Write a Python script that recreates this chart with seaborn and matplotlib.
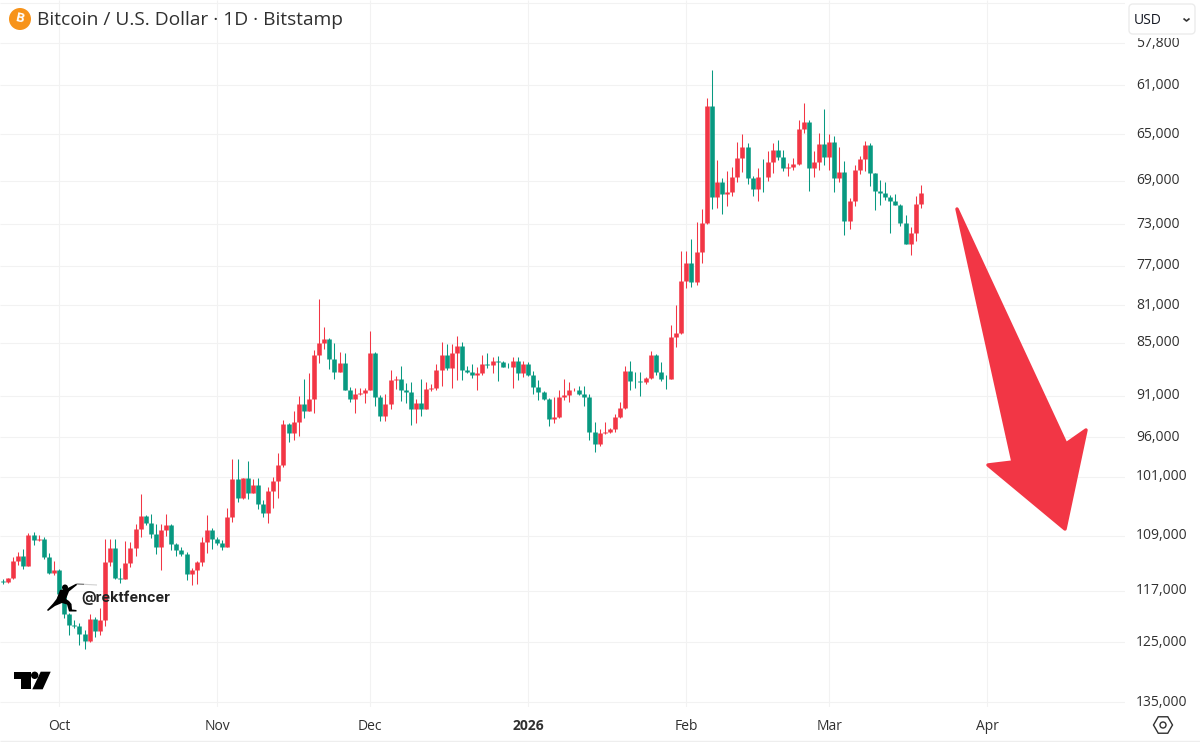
import numpy as np
import pandas as pd
import matplotlib
matplotlib.use("Agg")
import matplotlib.pyplot as plt
import matplotlib.dates as mdates
from matplotlib.patches import Circle, FancyBboxPatch, Polygon, Rectangle, RegularPolygon
from matplotlib.ticker import NullLocator
from matplotlib.transforms import ScaledTranslation
import seaborn as sns

# BTC/USD daily candles (the price axis is flipped)
START_DATE = "2025-09-20"
FIRST_OPEN = 115520
closes = [
    115670, 115125, 112535, 111865, 113270, 108883, 109580, 109394, 112057, 114392,
    113903, 117470, 120543, 122259, 122365, 123685, 124744, 121261, 123153, 121520,
    112780, 110681, 115028, 115175, 112926, 110681, 108094, 106285, 107166, 108697,
    110540, 108187, 107491, 110112, 111056, 111626, 114539, 113952, 112780, 109866,
    108187, 109441, 110018, 110540, 106420, 101300, 103811, 101134, 103150, 102095,
    104620, 105895, 102843, 101523, 99502, 94425, 95527, 94140, 91986, 92822,
    91355, 86399, 85000, 84599, 86768, 88276, 87255, 90395, 91355, 90783,
    90667, 90317, 86178, 91200, 93420, 92025, 89220, 89070, 90317, 90550,
    92622, 91905, 92542, 90200, 90160, 88087, 86325, 87860, 86104, 85368,
    88049, 88276, 88616, 88352, 87331, 87482, 87028, 87180, 87709, 87747,
    87028, 88352, 87331, 88654, 89958, 90579, 91430, 93815, 93537, 91150,
    90950, 90385, 90307, 90811, 91150, 95323, 96889, 95486, 95405, 94996,
    93537, 92463, 88162, 89298, 89310, 89376, 88988, 86399, 88238, 89066,
    89100, 84412, 83989, 78511, 76747, 78648, 75605, 72896, 62676, 70434,
    69146, 70194, 69986, 68673, 66985, 66105, 68790, 69776, 68673, 68702,
    67360, 66330, 66930, 67915, 67827, 67535, 64560, 63950, 67915, 67360,
    65817, 66930, 65646, 68790, 68264, 72643, 70826, 68030, 67128, 65874,
    68352, 69926, 70134, 70464, 70857, 71165, 72833, 74830, 73800, 71134,
    70134,
]
lows = [
    115272, 115028, 111960, 111246, 110913, 108558, 108510, 108883, 109208, 111389,
    112535, 113805, 117270, 120440, 121467, 121890, 123047, 120543, 120952, 119618,
    109441, 109441, 109441, 113560, 109770, 109818, 107352, 103283, 106120, 105985,
    107352, 107352, 105985, 107352, 109970, 110634, 111246, 113659, 112535, 109115,
    106165, 107955, 109208, 109580, 105200, 98773, 98773, 101134, 99029, 101300,
    101220, 104080, 102315, 101005, 97936, 93895, 94221, 92782, 91044, 89070,
    88427, 85810, 80350, 83343, 84455, 85074, 85994, 86178, 89958, 90075,
    90075, 90123, 83702, 86068, 90900, 90783, 88050, 88730, 87600, 89570,
    89450, 91430, 89105, 89375, 89650, 87406, 84964, 85148, 85148, 84240,
    84964, 87595, 87369, 87747, 86362, 86178, 86620, 86473, 86990, 87218,
    86546, 86620, 86990, 87103, 88162, 89182, 90423, 91270, 91110, 90346,
    89106, 89415, 90113, 89880, 89842, 90811, 94099, 94996, 94099, 94833,
    93218, 91707, 87595, 87028, 88314, 88314, 88800, 85920, 86252, 87180,
    88616, 83090, 80979, 75508, 75540, 74376, 72800, 71565, 62060, 59832,
    67185, 68732, 68147, 67768, 65617, 65004, 65703, 68557, 67915, 67100,
    66415, 65760, 65475, 66330, 67418, 67042, 63812, 62460, 63812, 66415,
    64866, 62950, 64977, 65143, 66048, 67270, 70584, 67622, 66810, 65560,
    65703, 68293, 68936, 69146, 70284, 70224, 71073, 72150, 73259, 70374,
    69386,
]
highs = [
    116020, 115770, 115175, 113170, 113805, 113270, 110294, 109675, 112247, 114490,
    114685, 117670, 121160, 123843, 122787, 125446, 126096, 125014, 124108, 123790,
    122427, 113270, 115272, 115870, 115272, 113416, 111865, 109115, 107490, 109348,
    111579, 113903, 109022, 111008, 111865, 111817, 115370, 116170, 115970, 113319,
    111484, 110913, 110350, 111008, 110540, 107027, 104385, 103990, 103945, 103195,
    105290, 106340, 107260, 105200, 103767, 99717, 96553, 96344, 95813, 93696,
    92862, 93021, 87217, 85662, 87936, 89070, 88314, 90395, 91747, 93021,
    90977, 91905, 90317, 92190, 93976, 93976, 92580, 90200, 91627, 91825,
    94505, 94297, 93380, 92622, 90435, 90346, 89842, 88049, 90152, 89182,
    89182, 88352, 88988, 90346, 88616, 87860, 88427, 89298, 87747, 87860,
    90152, 89182, 88880, 88730, 90811, 91508, 91508, 94630, 94304, 93617,
    91508, 91747, 90500, 90920, 92184, 96344, 97811, 97092, 95608, 95445,
    95323, 93617, 92622, 90346, 90152, 91000, 89609, 89066, 88616, 89260,
    90230, 89066, 85470, 84061, 79193, 79091, 78920, 76747, 72990, 71565,
    71444, 72057, 71290, 70344, 69086, 68205, 69296, 70374, 70796, 69986,
    69026, 68293, 67185, 68147, 68557, 68060, 67622, 64866, 69896, 68702,
    68060, 67622, 68060, 69986, 69086, 73999, 73433, 71290, 68410, 68118,
    69476, 71655, 71194, 70734, 73780, 71227, 73116, 74862, 75926, 74570,
    71475,
]

price_ticks = [54900, 57800, 61000, 65000, 69000, 73000, 77000, 81000, 85000,
               91000, 96000, 101000, 109000, 117000, 125000, 135000]
price_labels = ["", "57,800", "61,000", "65,000", "69,000", "73,000", "77,000", "81,000",
                "85,000", "91,000", "96,000", "101,000", "109,000", "117,000", "125,000", "135,000"]
month_ticks = ["2025-10-01", "2025-11-01", "2025-12-01", "2026-01-01", "2026-02-01", "2026-03-01", "2026-04-01"]
month_labels = ["Oct", "Nov", "Dec", "2026", "Feb", "Mar", "Apr"]

RED = "#F23645"
GREEN = "#089981"
GRID = "#f2f2f2"
TEXT = "#303030"

sns.set_theme(style="white", rc={"lines.solid_capstyle": "butt"})
plt.rcParams["font.family"] = ["Open Sans", "DejaVu Sans"]

dates = pd.date_range(START_DATE, periods=len(closes))
opens = [FIRST_OPEN] + closes[:-1]
side = ["up" if c >= o else "down" for o, c in zip(opens, closes)]

bodies = pd.DataFrame({"date": np.tile(dates, 2), "price": opens + closes, "side": side * 2})
wicks = pd.DataFrame({"date": np.tile(dates, 2), "price": lows + highs, "side": side * 2})
palette = {"up": GREEN, "down": RED}

fig = plt.figure(figsize=(12, 7.42), dpi=100)
ax = fig.add_axes([0, 1 - 707 / 742, 1125 / 1200, 707 / 742])

sns.lineplot(data=wicks, x="date", y="price", hue="side", units="date", estimator=None,
             palette=palette, linewidth=0.75, legend=False, ax=ax)
sns.lineplot(data=bodies, x="date", y="price", hue="side", units="date", estimator=None,
             palette=palette, linewidth=3.3, legend=False, ax=ax)

ax.set_yscale("log")
ax.set_ylim(135870, 54676)
ax.set_xlim(pd.Timestamp("2025-10-01") - pd.Timedelta(days=11.57),
            pd.Timestamp("2025-10-01") + pd.Timedelta(days=209.02))
ax.set_xlabel("")
ax.set_ylabel("")

ax.yaxis.tick_right()
ax.set_yticks(price_ticks, price_labels)
ax.yaxis.set_minor_locator(NullLocator())
ax.set_xticks(mdates.date2num(pd.to_datetime(month_ticks)), month_labels)
ax.tick_params(axis="y", length=0, pad=8, labelsize=10, labelcolor=TEXT)
ax.tick_params(axis="x", length=0, pad=9, labelsize=10, labelcolor=TEXT)
ax.get_xticklabels()[3].set_fontweight("bold")
ax.grid(True, color=GRID, linewidth=0.8)
ax.set_axisbelow(True)
sns.despine(ax=ax, left=True, bottom=True, right=True, top=True)

# labels sit a touch above their gridlines in the reference
nudge = ScaledTranslation(0, 2 / 100, fig.dpi_scale_trans)
for lab in ax.get_yticklabels():
    lab.set_transform(lab.get_transform() + nudge)

# overlay in image pixels for the header, watermark and drawn arrow
ov = fig.add_axes([0, 0, 1, 1], zorder=5)
ov.set_xlim(0, 1200)
ov.set_ylim(742, 0)
ov.axis("off")
ov.patch.set_alpha(0)

ov.add_patch(Circle((20, 19), 11, color="#F7931A", lw=0))
ov.text(20, 19, "B", color="white", fontsize=9.5, fontweight="bold", ha="center", va="center", rotation=-12)
ov.text(37, 20, "Bitcoin / U.S. Dollar · 1D · Bitstamp", color=TEXT, fontsize=13.8, va="center")

# the USD button hides the top of the 57,800 label
ov.add_patch(Rectangle((1126, 0), 74, 38, fc="white", lw=0))
ov.add_patch(FancyBboxPatch((1131, 6), 62, 26, boxstyle="round,pad=2,rounding_size=4",
                            fc="white", ec="#ececec", lw=1))
ov.text(1134, 21, "USD", color="#131722", fontsize=10, va="center")
ov.plot([1183.5, 1186.5, 1189.5], [18.5, 21, 18.5], color="#333333", lw=1.2)

ov.add_patch(Polygon([(957, 209), (1066, 444), (1086, 430), (1065, 529), (988, 465), (1013, 462)],
                     closed=True, fc=RED, ec=RED, lw=2.5, joinstyle="round"))

# TradingView mark
ov.add_patch(Polygon([(13.7, 671.7), (30.7, 671.7), (30.7, 689.3), (20.7, 689.3), (20.7, 678.7), (13.7, 678.7)],
                     closed=True, fc="black", lw=0))
ov.add_patch(Circle((34.7, 675.3), 3.7, fc="black", lw=0))
ov.add_patch(Polygon([(40.7, 671.7), (50.7, 671.7), (42.7, 689.3), (32.3, 689.3)], closed=True, fc="black", lw=0))

# fencer watermark
ov.add_patch(Circle((65, 587.5), 3, fc="black", lw=0))
ov.add_patch(Polygon([(60, 590), (66, 589), (76.5, 583.5), (77, 585), (69, 591.5), (66, 599), (69, 601), (71.5, 604),
                      (72, 609.5), (76.5, 610), (76.5, 611.5), (69, 611.5), (67, 604.5), (62, 603), (55, 606),
                      (48, 611), (47, 610), (53, 603.5), (56.5, 599), (58.5, 594)],
                     closed=True, fc="black", lw=0))
ov.plot([77, 84], [584, 584.3], color="#666666", lw=0.8)
ov.plot([84, 97], [584.3, 585], color="#d0d0d0", lw=0.8)
ov.text(81, 597.5, "@rektfencer", color="#222222", fontsize=10.4, fontweight="bold", family="Inter", va="center")

# settings icon
ov.add_patch(RegularPolygon((1163, 725), 6, radius=9.5, orientation=np.pi / 6, fc="none", ec=TEXT, lw=1))
ov.add_patch(Circle((1163, 725), 3, fc="none", ec=TEXT, lw=1))
ov.plot([0, 1200], [740.5, 740.5], color="#eeeeee", lw=1)

fig.savefig("out.png", dpi=100)
